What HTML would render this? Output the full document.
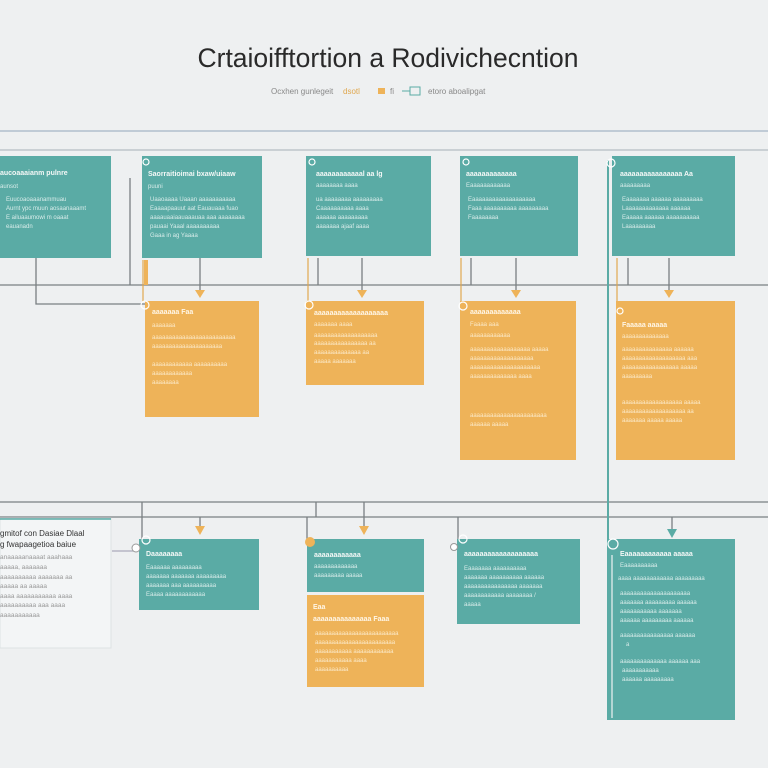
<!DOCTYPE html>
<html><head><meta charset="utf-8"><style>
html,body{margin:0;padding:0;background:#eef0f1;}
svg{display:block;font-family:"Liberation Sans",sans-serif;}
.h{fill:#f4f8f7;font-size:7px;font-weight:bold}
.t{fill:#d8ecea;font-size:6px}
.oh{fill:#fff6e6;font-size:7px;font-weight:bold}
.ot{fill:#fbe9c8;font-size:6px}
</style></head><body>
<svg width="768" height="768" viewBox="0 0 768 768" xmlns="http://www.w3.org/2000/svg">
<rect width="768" height="768" fill="#eef0f1"/>
<text x="388" y="67" text-anchor="middle" font-size="26.5" fill="#2a2a2a">Crtaioifftortion a Rodivichecntion</text>
<text x="271" y="94" font-size="8" fill="#888">Ocxhen gunlegeit</text>
<text x="343" y="94" font-size="8" fill="#e0a850">dsotl</text>
<rect x="378" y="88" width="7" height="6" fill="#eeb359"/>
<text x="390" y="94" font-size="8" fill="#888">fi</text>
<line x1="402" y1="91" x2="410" y2="91" stroke="#5aaba5"/>
<rect x="410" y="87" width="10" height="8" fill="none" stroke="#5aaba5"/>
<text x="428" y="94" font-size="8" fill="#888">etoro aboalipgat</text>

<g stroke="#8a9aa5" fill="none" stroke-width="1.3">
<line x1="0" y1="131" x2="768" y2="131" stroke="#a5b5c5"/>
<line x1="0" y1="150" x2="768" y2="150" stroke="#b5bcc2"/>
<line x1="0" y1="285" x2="768" y2="285" stroke="#7a7f82"/>
<line x1="0" y1="502" x2="768" y2="502" stroke="#7a7f82"/>
<line x1="0" y1="517" x2="768" y2="517" stroke="#7a7f82"/>
<path d="M36 258 V304 H145" stroke="#7a7f82"/>
<line x1="130" y1="178" x2="130" y2="285" stroke="#7a7f82"/>
<line x1="200" y1="258" x2="200" y2="295" stroke="#7a7f82"/>
<line x1="362" y1="258" x2="362" y2="295" stroke="#7a7f82"/>
<line x1="318" y1="258" x2="318" y2="285" stroke="#7a7f82"/>
<line x1="471" y1="258" x2="471" y2="285" stroke="#7a7f82"/>
<line x1="516" y1="258" x2="516" y2="295" stroke="#7a7f82"/>
<line x1="628" y1="258" x2="628" y2="285" stroke="#7a7f82"/>
<line x1="669" y1="258" x2="669" y2="295" stroke="#7a7f82"/>
<line x1="142" y1="502" x2="142" y2="539" stroke="#7a7f82"/>
<line x1="200" y1="517" x2="200" y2="528" stroke="#7a7f82"/>
<line x1="316" y1="502" x2="316" y2="517" stroke="#7a7f82"/>
<line x1="364" y1="502" x2="364" y2="528" stroke="#7a7f82"/>
<line x1="307" y1="517" x2="307" y2="539" stroke="#7a7f82"/>
<line x1="458" y1="517" x2="458" y2="539" stroke="#7a7f82"/>
<line x1="672" y1="517" x2="672" y2="530" stroke="#7a7f82"/>
<line x1="112" y1="551" x2="134" y2="551" stroke="#aab"/>
</g>
<rect x="144" y="260" width="4" height="25" fill="#eeb359"/>
<line x1="143" y1="260" x2="143" y2="302" stroke="#e0a850" stroke-width="1.2"/>
<line x1="308" y1="258" x2="308" y2="302" stroke="#e0a850" stroke-width="1.2"/>
<line x1="461" y1="258" x2="461" y2="302" stroke="#e0a850" stroke-width="1.2"/>
<line x1="617" y1="258" x2="617" y2="302" stroke="#e0a850" stroke-width="1.2"/>
<line x1="608" y1="160" x2="608" y2="720" stroke="#5aaba5" stroke-width="2"/>
<g fill="#eeb359">
<path d="M195 290 H205 L200 298Z"/><path d="M357 290 H367 L362 298Z"/><path d="M511 290 H521 L516 298Z"/><path d="M664 290 H674 L669 298Z"/>
<path d="M195 526 H205 L200 535Z"/><path d="M359 526 H369 L364 535Z"/>
</g>
<path d="M667 529 H677 L672 538Z" fill="#5aaba5"/>

<g fill="#5aaba5">
<rect x="0" y="156" width="111" height="102"/>
<rect x="142" y="156" width="120" height="102"/>
<rect x="306" y="156" width="125" height="100"/>
<rect x="460" y="156" width="118" height="100"/>
<rect x="612" y="156" width="123" height="100"/>
</g>
<g fill="#eeb359">
<rect x="145" y="301" width="114" height="116"/>
<rect x="306" y="301" width="118" height="84"/>
<rect x="460" y="301" width="116" height="159"/>
<rect x="616" y="301" width="119" height="159"/>
<rect x="307" y="595" width="117" height="92"/>
</g>
<rect x="0" y="518" width="111" height="130" fill="#f3f5f6" stroke="#dde2e4"/>
<line x1="0" y1="519" x2="111" y2="519" stroke="#5aaba5" stroke-width="1.5"/>
<g fill="#5aaba5">
<rect x="139" y="539" width="120" height="71"/>
<rect x="307" y="539" width="117" height="53"/>
<rect x="457" y="539" width="123" height="85"/>
<rect x="609" y="539" width="126" height="181"/>
</g>
<line x1="612" y1="555" x2="612" y2="718" stroke="#eef3f3" stroke-width="1.2"/>
<g fill="none" stroke="#fff" stroke-width="1.2">
<circle cx="146" cy="162" r="3"/><circle cx="312" cy="162" r="3"/><circle cx="466" cy="162" r="3"/><circle cx="611" cy="163" r="4"/>
<circle cx="145" cy="305" r="4"/><circle cx="309" cy="305" r="4"/><circle cx="463" cy="306" r="4"/><circle cx="620" cy="311" r="3"/>
<circle cx="146" cy="540" r="4"/><circle cx="613" cy="544" r="5"/><circle cx="463" cy="539" r="4"/>
</g>
<circle cx="310" cy="542" r="5" fill="#eeb359"/>
<circle cx="136" cy="548" r="4" fill="#fff" stroke="#999"/>
<circle cx="454" cy="547" r="3.5" fill="#fff" stroke="#999"/>

<text class="h" x="0" y="175">aucoaaaianm pulnre</text><text class="t" x="0" y="188">aunsot</text>
<text class="t" x="6" y="201">Euucoaoaaanammuau</text><text class="t" x="6" y="210">Aurnt ypc muun aosaanaaamt</text><text class="t" x="6" y="219">E ailuaaumowi m oaaat</text><text class="t" x="6" y="228">eauanadn</text>
<text class="h" x="148" y="176">Saorraitioimai bxaw/uiaaw</text><text class="t" x="148" y="188">puuni</text>
<text class="t" x="150" y="201">Uaaoaaaa Uaaan aaaaaaaaaaa</text><text class="t" x="150" y="210">Eaaaapaauut aat Eauauaaa fuao</text><text class="t" x="150" y="219">aaaauaaiaauaaauaa aaa aaaaaaaa</text><text class="t" x="150" y="228">pauaai Yaaal aaaaaaaaaa</text><text class="t" x="150" y="237">Gaaa in ag Yaaaa</text>
<text class="h" x="316" y="176">aaaaaaaaaaaal aa lg</text><text class="t" x="316" y="187">aaaaaaaa aaaa</text>
<text class="t" x="316" y="201">ua aaaaaaaa aaaaaaaaa</text><text class="t" x="316" y="210">Caaaaaaaaaa aaaa</text><text class="t" x="316" y="219">aaaaaa aaaaaaaaa</text><text class="t" x="316" y="228">aaaaaaa ajaaf aaaa</text>
<text class="h" x="466" y="176">aaaaaaaaaaaaa</text><text class="t" x="466" y="187">Eaaaaaaaaaaaa</text>
<text class="t" x="468" y="201">Eaaaaaaaaaaaaaaaaaaa</text><text class="t" x="468" y="210">Faaa aaaaaaaaaa aaaaaaaaa</text><text class="t" x="468" y="219">Faaaaaaaa</text>
<text class="h" x="620" y="176">aaaaaaaaaaaaaaaa Aa</text><text class="t" x="620" y="187">aaaaaaaaa</text>
<text class="t" x="622" y="201">Eaaaaaaa aaaaaa aaaaaaaaa</text><text class="t" x="622" y="210">Laaaaaaaaaaaaa aaaaaa</text><text class="t" x="622" y="219">Eaaaaa aaaaaa aaaaaaaaaa</text><text class="t" x="622" y="228">Laaaaaaaaa</text>
<text class="oh" x="152" y="314">aaaaaaa Faa</text><text class="ot" x="152" y="327">aaaaaaa</text>
<text class="ot" x="152" y="339">aaaaaaaaaaaaaaaaaaaaaaaaa</text><text class="ot" x="152" y="348">aaaaaaaaaaaaaaaaaaaaa</text>
<text class="ot" x="152" y="366">aaaaaaaaaaaa aaaaaaaaaa</text><text class="ot" x="152" y="375">aaaaaaaaaaaa</text><text class="ot" x="152" y="384">aaaaaaaa</text>
<text class="oh" x="314" y="315">aaaaaaaaaaaaaaaaaaa</text><text class="ot" x="314" y="326">aaaaaaa aaaa</text>
<text class="ot" x="314" y="337">aaaaaaaaaaaaaaaaaaa</text><text class="ot" x="314" y="345">aaaaaaaaaaaaaaaa aa</text><text class="ot" x="314" y="354">aaaaaaaaaaaaaa aa</text><text class="ot" x="314" y="363">aaaaa aaaaaaa</text>
<text class="oh" x="470" y="314">aaaaaaaaaaaaa</text><text class="ot" x="470" y="326">Faaaa aaa</text><text class="ot" x="470" y="337">aaaaaaaaaaaa</text>
<text class="ot" x="470" y="351">aaaaaaaaaaaaaaaaaa aaaaa</text><text class="ot" x="470" y="360">aaaaaaaaaaaaaaaaaaa</text><text class="ot" x="470" y="369">aaaaaaaaaaaaaaaaaaaaa</text><text class="ot" x="470" y="378">aaaaaaaaaaaaaa aaaa</text>
<text class="ot" x="470" y="417">aaaaaaaaaaaaaaaaaaaaaaa</text><text class="ot" x="470" y="426">aaaaaa aaaaa</text>
<text class="oh" x="622" y="327">Faaaaa aaaaa</text><text class="ot" x="622" y="338">aaaaaaaaaaaaaa</text>
<text class="ot" x="622" y="351">aaaaaaaaaaaaaaa aaaaaa</text><text class="ot" x="622" y="360">aaaaaaaaaaaaaaaaaaa aaa</text><text class="ot" x="622" y="369">aaaaaaaaaaaaaaaaa aaaaa</text><text class="ot" x="622" y="378">aaaaaaaaa</text>
<text class="ot" x="622" y="404">aaaaaaaaaaaaaaaaaa aaaaa</text><text class="ot" x="622" y="413">aaaaaaaaaaaaaaaaaaa aa</text><text class="ot" x="622" y="422">aaaaaaa aaaaa aaaaa</text>
<text class="oh" x="313" y="609">Eaa</text><text class="oh" x="313" y="621">aaaaaaaaaaaaaaa Faaa</text>
<text class="ot" x="315" y="635">aaaaaaaaaaaaaaaaaaaaaaaaa</text><text class="ot" x="315" y="644">aaaaaaaaaaaaaaaaaaaaaaaa</text><text class="ot" x="315" y="653">aaaaaaaaaaa aaaaaaaaaaaa</text><text class="ot" x="315" y="662">aaaaaaaaaaa aaaa</text><text class="ot" x="315" y="671">aaaaaaaaaa</text>
<text x="0" y="536" font-size="8" fill="#333">gmitof con Dasiae Dlaal</text><text x="0" y="547" font-size="8" fill="#333">g fwapaagetioa baiue</text>
<text x="0" y="559" font-size="6.5" fill="#999">anaaaaanaaaat aaahaaa</text><text x="0" y="569" font-size="6.5" fill="#999">aaaaa, aaaaaaa</text><text x="0" y="579" font-size="6.5" fill="#999">aaaaaaaaaa aaaaaaa aa</text><text x="0" y="588" font-size="6.5" fill="#999">aaaaa aa aaaaa</text><text x="0" y="598" font-size="6.5" fill="#999">aaaa aaaaaaaaaaa aaaa</text><text x="0" y="607" font-size="6.5" fill="#999">aaaaaaaaaa aaa aaaa</text><text x="0" y="617" font-size="6.5" fill="#999">aaaaaaaaaaa</text>
<text class="h" x="146" y="556">Daaaaaaaa</text><text class="t" x="146" y="569">Eaaaaaa aaaaaaaaa</text><text class="t" x="146" y="578">aaaaaaa aaaaaaa aaaaaaaaa</text><text class="t" x="146" y="587">aaaaaaa aaa aaaaaaaaaa</text><text class="t" x="146" y="596">Eaaaa aaaaaaaaaaaa</text>
<text class="h" x="314" y="557">aaaaaaaaaaaa</text><text class="t" x="314" y="568">aaaaaaaaaaaaa</text><text class="t" x="314" y="577">aaaaaaaaa aaaaa</text>
<text class="h" x="464" y="556">aaaaaaaaaaaaaaaaaaa</text><text class="t" x="464" y="570">Eaaaaaaa aaaaaaaaaa</text><text class="t" x="464" y="579">aaaaaaa aaaaaaaaaa aaaaaa</text><text class="t" x="464" y="588">aaaaaaaaaaaaaaaa aaaaaaa</text><text class="t" x="464" y="597">aaaaaaaaaaaa aaaaaaaa /</text><text class="t" x="464" y="606">aaaaa</text>
<text class="h" x="620" y="556">Eaaaaaaaaaaaa aaaaa</text><text class="t" x="620" y="567">Eaaaaaaaaaa</text><text class="t" x="618" y="580">aaaa aaaaaaaaaaaa aaaaaaaaa</text>
<text class="t" x="620" y="595">aaaaaaaaaaaaaaaaaaaaa</text><text class="t" x="620" y="604">aaaaaaa aaaaaaaaa aaaaaa</text><text class="t" x="620" y="613">aaaaaaaaaaa aaaaaaa</text><text class="t" x="620" y="622">aaaaaa aaaaaaaaa aaaaaa</text>
<text class="t" x="620" y="637">aaaaaaaaaaaaaaaa aaaaaa</text><text class="t" x="626" y="646">a</text>
<text class="t" x="620" y="663">aaaaaaaaaaaaaa aaaaaa aaa</text><text class="t" x="622" y="672">aaaaaaaaaaa</text><text class="t" x="622" y="681">aaaaaa aaaaaaaaa</text>
</svg>
</body></html>
